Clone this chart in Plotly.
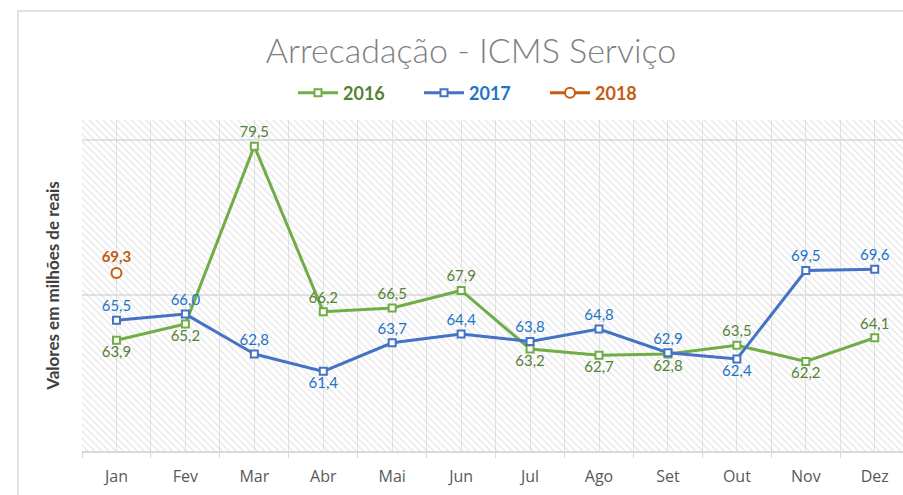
import plotly.graph_objects as go

# Monthly ICMS service revenue, in millions of reais
MESES = ["Jan", "Fev", "Mar", "Abr", "Mai", "Jun", "Jul", "Ago", "Set", "Out", "Nov", "Dez"]
ANO_2016 = [63.9, 65.2, 79.5, 66.2, 66.5, 67.9, 63.2, 62.7, 62.8, 63.5, 62.2, 64.1]
ANO_2017 = [65.5, 66.0, 62.8, 61.4, 63.7, 64.4, 63.8, 64.8, 62.9, 62.4, 69.5, 69.6]
ANO_2018 = [69.3, None, None, None, None, None, None, None, None, None, None, None]

# label placement for each point (above / below the marker)
POS_2016 = ["bottom center", "bottom center", "top center", "top center", "top center", "top center",
            "bottom center", "bottom center", "bottom center", "top center", "bottom center", "top center"]
POS_2017 = ["top center", "top center", "top center", "bottom center", "top center", "top center",
            "top center", "top center", "top center", "bottom center", "top center", "top center"]

Y_MIN, Y_MAX, Y_STEP = 55, 81.6, 12.5

x_idx = list(range(len(MESES)))
FONT = "Lato"

fig = go.Figure()

# hatched plot-area background, one full-height column per month
fig.add_trace(go.Bar(
    x=x_idx, y=[Y_MAX - Y_MIN] * len(MESES), base=Y_MIN, width=1,
    marker=dict(color="rgba(0,0,0,0)", line_width=0,
                pattern=dict(shape="\\", fgcolor="#cccccc", bgcolor="rgba(0,0,0,0)",
                             size=5, solidity=0.25)),
    showlegend=False, hoverinfo="skip",
))

def serie(name, values, line_color, text_color, positions, symbol, msize, bold=False):
    tfont = dict(family=FONT, size=15, color=text_color)
    if bold:
        tfont["weight"] = "bold"
    return go.Scatter(
        x=x_idx, y=values, mode="lines+markers+text",
        name=f"<span style='color:{text_color}'><b>{name}</b></span>",
        line=dict(color=line_color, width=3),
        marker=dict(symbol=symbol, size=msize, color="white",
                    line=dict(color=line_color, width=2)),
        texttemplate="%{y:.1f}", textposition=positions, textfont=tfont,
        cliponaxis=False, hoverinfo="skip",
    )

fig.add_trace(serie("2016", ANO_2016, "#70AD47", "#548235", POS_2016, "square", 7))
fig.add_trace(serie("2017", ANO_2017, "#4472C4", "#1F74C6", POS_2017, "square", 7))
fig.add_trace(serie("2018", ANO_2018, "#C55A11", "#C55A11", "top center", "circle", 10, bold=True))

# outer chart frame
fig.add_shape(type="rect", xref="paper", yref="paper",
              x0=-0.078, x1=1.2, y0=-0.3, y1=1.329,
              line=dict(color="#d9d9d9", width=1.5), fillcolor="rgba(0,0,0,0)", layer="below")

fig.update_layout(
    width=903, height=495,
    margin=dict(l=82, r=0, t=120, b=44),
    paper_bgcolor="white", plot_bgcolor="white",
    separators=",.",
    bargap=0,
    font=dict(family=FONT, color="#595959"),
    title=dict(text="Arrecadação - ICMS Serviço", x=471 / 903, xanchor="center",
               xref="container", y=1 - 51 / 495, yanchor="middle", yref="container",
               font=dict(family=FONT, size=34, color="#7f7f7f", weight=300)),
    legend=dict(orientation="h", xref="container", yref="container",
                x=482 / 903, xanchor="center", y=1 - 93 / 495, yanchor="middle",
                font=dict(family=FONT, size=18), itemwidth=40,
                entrywidth=71, entrywidthmode="pixels", bgcolor="rgba(0,0,0,0)"),
    xaxis=dict(
        range=[-0.5, 11.41], tickmode="array", tickvals=x_idx, ticktext=MESES,
        ticks="", showgrid=True, gridcolor="#e3e3e3", gridwidth=1,
        minor=dict(tick0=0.5, dtick=1, ticks="outside", ticklen=5, tickcolor="#d9d9d9",
                   showgrid=True, gridcolor="#e3e3e3", gridwidth=1),
        showline=True, linecolor="#d9d9d9", linewidth=1.5, zeroline=False,
        tickfont=dict(family="Open Sans", size=16, color="#595959", weight=400),
        ticklabelstandoff=10,
    ),
    yaxis=dict(
        range=[Y_MIN, Y_MAX], tick0=Y_MIN, dtick=Y_STEP, showticklabels=False, ticks="",
        showgrid=True, gridcolor="#e3e3e3", gridwidth=1.5, zeroline=False,
        title=dict(text="<b>Valores em milhões de reais</b>", standoff=17,
                   font=dict(family=FONT, size=17, color="#404040")),
    ),
)

fig.write_html("out.html")
